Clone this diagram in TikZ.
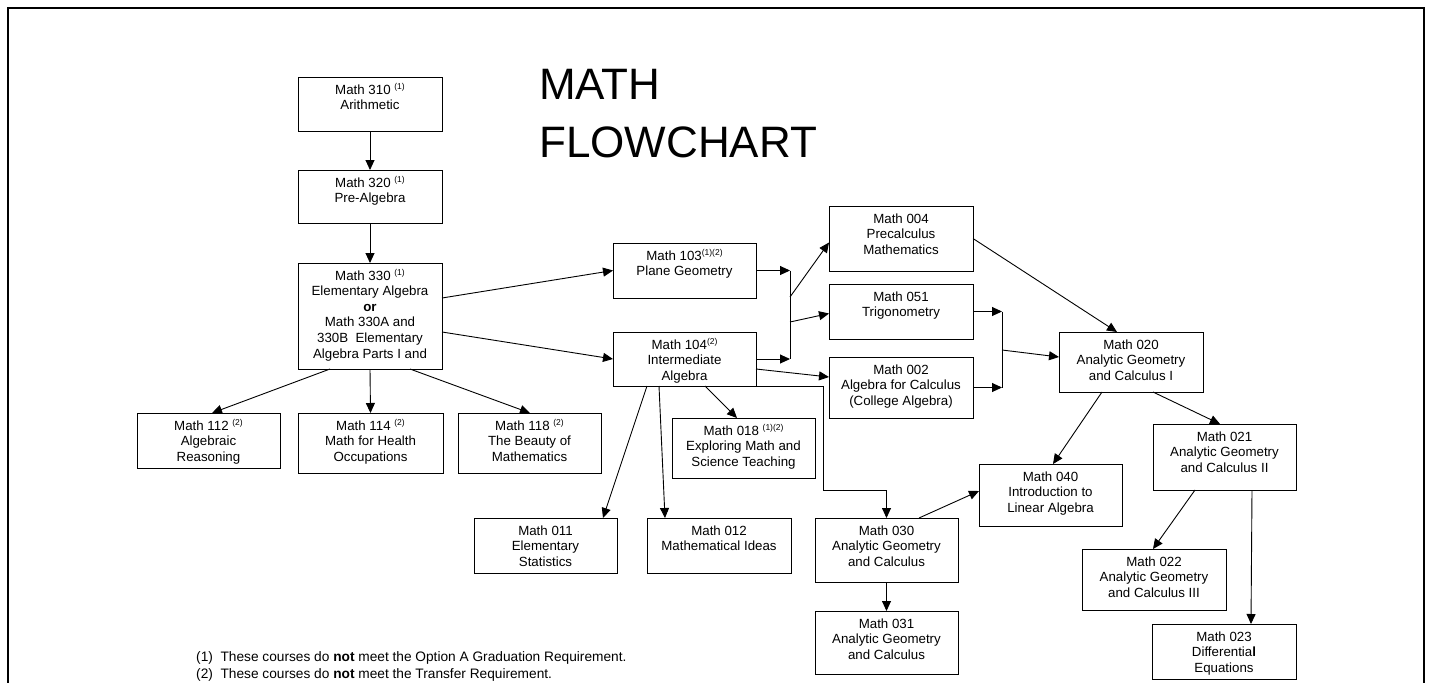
\documentclass[tikz,border=0pt]{standalone}
\usepackage{fontspec}
\setmainfont{Liberation Sans}
\usetikzlibrary{arrows.meta,calc}
\newcommand\sups[1]{\raisebox{5pt}{\fontsize{8.5}{9}\selectfont #1}}
\newcommand\crs[6]{\node[crsbox,anchor=north west] (#1) at (#2,#3) {\parbox[t][\dimexpr#5pt-#3pt\relax][t]{\dimexpr#4pt-#2pt\relax}{\centering\rule{0pt}{17pt}#6}};}
\tikzset{
  crsbox/.style={draw=black, line width=0.9pt, inner sep=0pt, outer sep=0pt, fill=white,
    font=\fontsize{13.3}{15.6}\selectfont},
  conn/.style={draw=black, line width=0.9pt, -{Triangle[length=10pt,width=9pt]}},
  plainline/.style={draw=black, line width=0.9pt},
  titletext/.style={font=\fontsize{44}{58}\selectfont, inner sep=0pt, anchor=base west},
  notetext/.style={font=\fontsize{13.7}{16}\selectfont, inner sep=0pt, anchor=base west}
}
\begin{document}
\begin{tikzpicture}[x=1pt,y=-1pt]
\useasboundingbox (0,0) rectangle (1433,683);
\fill[white] (0,0) rectangle (1433,683);
\draw[line width=2.4pt] (8,8) rectangle (1424,760);

\node[titletext] (title1) at (539,99) {MATH};
\node[titletext] (title2) at (539,157) {FLOWCHART};

\crs{m310}{298}{77}{442}{131}{Math 310 \sups{(1)}\\Arithmetic}
\crs{m320}{298}{170}{442}{223}{Math 320 \sups{(1)}\\Pre-Algebra}
\crs{m330}{298}{263}{442}{369}{Math 330 \sups{(1)}\\Elementary Algebra\\\textbf{or}\\Math 330A and\\330B\ \ Elementary\\Algebra Parts I and}
\crs{m112}{137}{413}{280}{468}{Math 112 \sups{(2)}\\Algebraic\\Reasoning}
\crs{m114}{298}{413}{443}{473}{Math 114 \sups{(2)}\\Math for Health\\Occupations}
\crs{m118}{458}{413}{601}{473}{Math 118 \sups{(2)}\\The Beauty of\\Mathematics}
\crs{m103}{613}{243}{756}{298}{Math 103\sups{(1)(2)}\\Plane Geometry}
\crs{m104}{613}{332}{756}{386}{Math 104\sups{(2)}\\Intermediate\\Algebra}
\crs{m004}{829}{206}{973}{271}{Math 004\\Precalculus\\Mathematics}
\crs{m051}{829}{284}{973}{339}{Math 051\\Trigonometry}
\crs{m002}{829}{357}{973}{418}{Math 002\\Algebra for Calculus\\(College Algebra)}
\crs{m020}{1059}{332}{1203}{392}{Math 020\\Analytic Geometry\\and Calculus I}
\crs{m021}{1153}{424}{1296}{490}{Math 021\\Analytic Geometry\\and Calculus II}
\crs{m018}{672}{418}{815}{478}{Math 018 \sups{(1)(2)}\\Exploring Math and\\Science Teaching}
\crs{m011}{474}{518}{617}{573}{Math 011\\Elementary\\Statistics}
\crs{m012}{647}{518}{791}{573}{Math 012\\Mathematical Ideas}
\crs{m030}{815}{518}{958}{582}{Math 030\\Analytic Geometry\\and Calculus}
\crs{m031}{815}{611}{958}{674}{Math 031\\Analytic Geometry\\and Calculus}
\crs{m040}{979}{464}{1122}{526}{Math 040\\Introduction to\\Linear Algebra}
\crs{m022}{1082}{549}{1226}{610}{Math 022\\Analytic Geometry\\and Calculus III}
\crs{m023}{1152}{624}{1296}{679}{Math 023\\Differentia{\bfseries l}\\Equations}

% left column
\draw[conn] (m310.south) -- (m320.north);
\draw[conn] (m320.south) -- (m330.north);
\draw[conn] ([yshift=-35pt]m330.north east) -- (m103.west);
\draw[conn] ([yshift=-69pt]m330.north east) -- (m104.west);
\draw[conn] ([xshift=32pt]m330.south west) -- ([xshift=75pt]m112.north west);
\draw[conn] (m330.south) -- (m114.north);
\draw[conn] ([xshift=112pt]m330.south west) -- ([xshift=72pt]m118.north west);

% first junction
\coordinate (j1) at (790,0);
\coordinate (j1a) at (790,297);
\coordinate (j1b) at (790,322);
\draw[conn] (m103.east) -- (m103.east -| j1);
\draw[conn] (m104.east) -- (m104.east -| j1);
\draw[plainline] (m103.east -| j1) -- (m104.east -| j1);
\draw[conn] (j1a) -- ([yshift=-4pt]m004.west);
\draw[conn] (j1b) -- ([yshift=-2pt]m051.west);
\draw[conn] ([yshift=-37pt]m104.north east) -- ([yshift=-20pt]m002.north west);

% second junction
\coordinate (j2) at (1002,0);
\coordinate (j2m) at (1002,350);
\draw[conn] (m051.east) -- (m051.east -| j2);
\draw[conn] (m002.east) -- (m002.east -| j2);
\draw[plainline] (m051.east -| j2) -- (m002.east -| j2);
\draw[conn] (j2m) -- ([yshift=5pt]m020.west);
\draw[conn] (m004.east) -- ([xshift=58pt]m020.north west);

% calculus
\draw[conn] ([xshift=94pt]m020.south west) -- ([xshift=67pt]m021.north west);
\draw[conn] ([xshift=43pt]m020.south west) -- ([xshift=74pt]m040.north west);
\draw[conn] ([xshift=42pt]m021.south west) -- ([xshift=71pt]m022.north west);
\draw[conn] ([xshift=99pt]m021.south west) -- ([xshift=99pt]m023.north west);

% from 104 downward
\coordinate (k1) at (823,490);
\draw[conn] (m104.south east) -| (k1) -| (m030.north);
\draw[conn] ([xshift=34pt]m104.south west) -- ([xshift=129pt]m011.north west);
\draw[conn] ([xshift=46pt]m104.south west) -- ([xshift=18pt]m012.north west);
\draw[conn] ([xshift=92pt]m104.south west) -- ([xshift=65pt]m018.north west);
\draw[conn] ([xshift=104pt]m030.north west) -- ([yshift=-27pt]m040.north west);
\draw[conn] (m030.south) -- (m031.north);

% footnotes
\node[notetext] (note1) at (196,661) {(1)\ \ These courses do \textbf{not} meet the Option A Graduation Requirement.};
\node[notetext] (note2) at (196,678) {(2)\ \ These courses do \textbf{not} meet the Transfer Requirement.};
\end{tikzpicture}
\end{document}
